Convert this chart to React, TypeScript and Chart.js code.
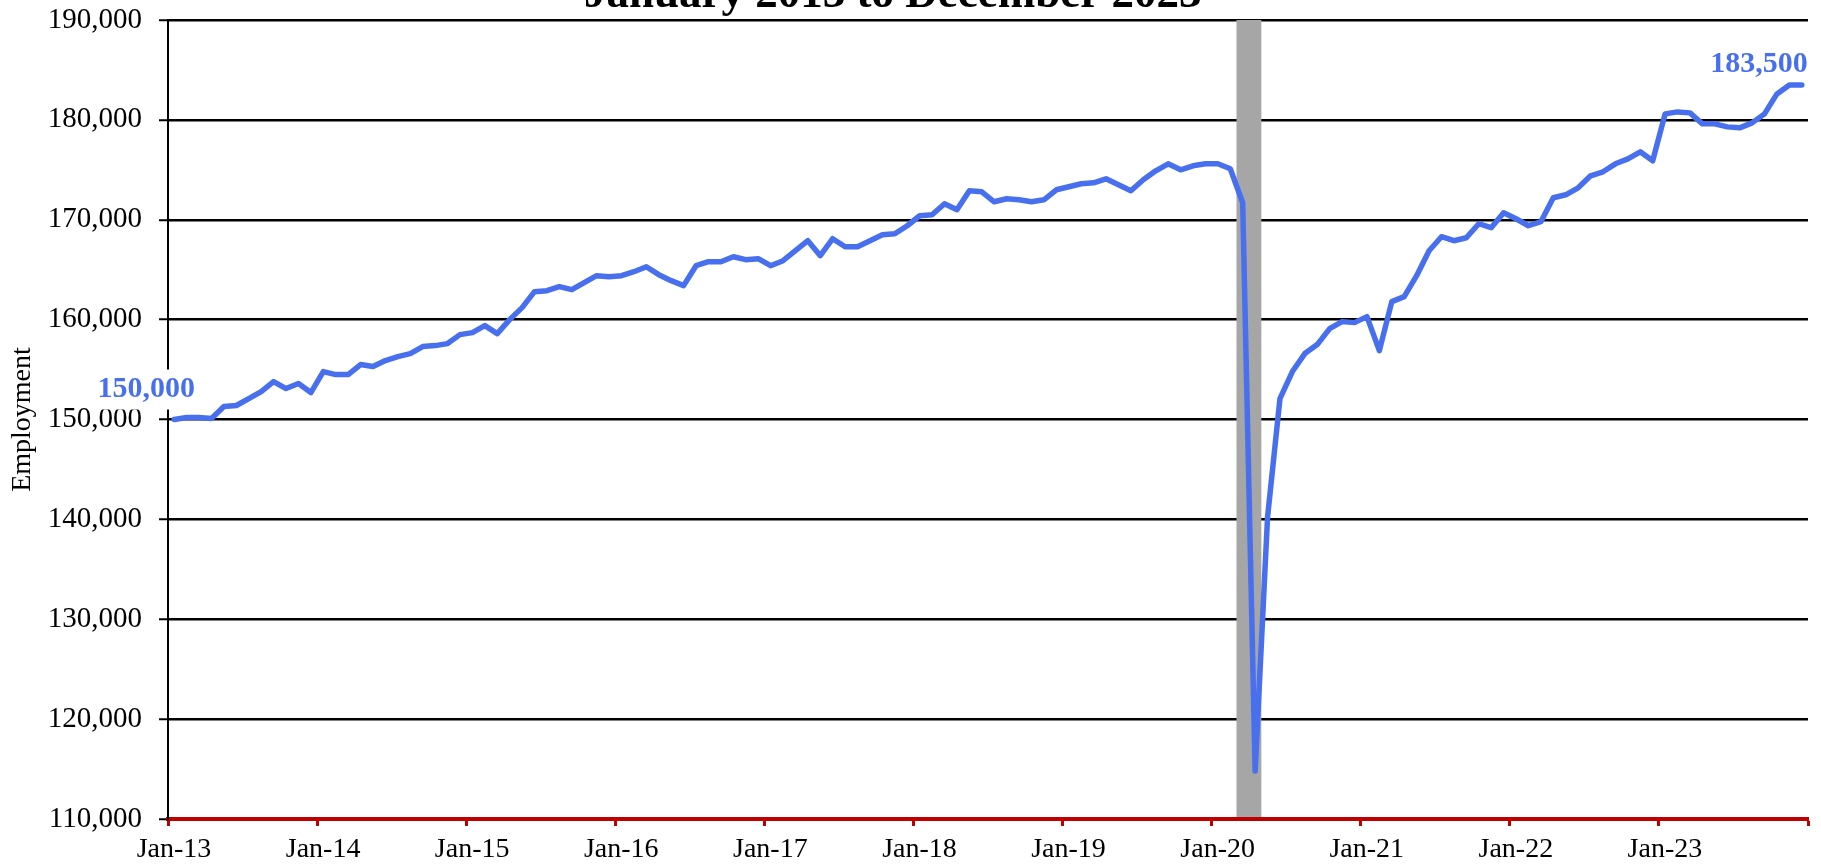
import React, { useEffect, useRef } from "react";
import { Chart, registerables } from "chart.js";

Chart.register(...registerables);

// Monthly employment, January 2013 to December 2023 (132 months)
const employment: number[] = [
  // 2013
  150000, 150200, 150200, 150100, 151300, 151400, 152100, 152800, 153800, 153100, 153600, 152700,
  // 2014
  154800, 154500, 154500, 155500, 155300, 155900, 156300, 156600, 157300, 157400, 157600, 158500,
  // 2015
  158700, 159400, 158600, 160000, 161200, 162800, 162900, 163300, 163000, 163700, 164400, 164300,
  // 2016
  164400, 164800, 165300, 164500, 163900, 163400, 165400, 165800, 165800, 166300, 166000, 166100,
  // 2017
  165400, 165900, 166900, 167900, 166400, 168100, 167300, 167300, 167900, 168500, 168600, 169400,
  // 2018
  170400, 170500, 171600, 171000, 172900, 172800, 171800, 172100, 172000, 171800, 172000, 173000,
  // 2019
  173300, 173600, 173700, 174100, 173500, 172900, 174000, 174900, 175600, 175000, 175400, 175600,
  // 2020
  175600, 175100, 171700, 114800, 140200, 152100, 154800, 156600, 157500, 159100, 159800, 159700,
  // 2021
  160300, 156900, 161800, 162300, 164400, 166900, 168300, 167900, 168200, 169600, 169200, 170700,
  // 2022
  170100, 169400, 169800, 172200, 172500, 173200, 174400, 174800, 175600, 176100, 176800, 175900,
  // 2023
  180600, 180800, 180700, 179600, 179600, 179300, 179200, 179700, 180600, 182600, 183500, 183500,
];

const xTickLabels: string[] = [
  "Jan-13", "Jan-14", "Jan-15", "Jan-16", "Jan-17", "Jan-18",
  "Jan-19", "Jan-20", "Jan-21", "Jan-22", "Jan-23",
];

const yMin = 110000;
const yMax = 190000;
const yStep = 10000;
const monthsPerTick = 12;
const totalMonths = 132;

// Recession shading: March 2020 through April 2020 (month slots 86..88)
const recessionStart = 86;
const recessionEnd = 88;

// Data labels on first and last point
const labelIndices: number[] = [0, 131];
const labelTexts: string[] = ["150,000", "183,500"];

const titleText = "January 2013 to December 2023";

const SERIF = "'Liberation Serif', 'Times New Roman', serif";
const LINE_BLUE = "#4870EE";

const overlayPlugin = {
  id: "overlay",
  beforeDatasetsDraw(chart: any) {
    const { ctx, chartArea, scales } = chart;
    const x0 = scales.x.getPixelForValue(recessionStart);
    const x1 = scales.x.getPixelForValue(recessionEnd);
    ctx.save();
    ctx.fillStyle = "#A6A6A6";
    ctx.fillRect(x0, chartArea.top, x1 - x0, chartArea.bottom - chartArea.top - 2);
    ctx.restore();
  },
  afterDatasetsDraw(chart: any) {
    const { ctx } = chart;
    const meta = chart.getDatasetMeta(0);
    ctx.save();
    ctx.font = `bold 30px ${SERIF}`;
    ctx.textBaseline = "middle";
    labelIndices.forEach((idx, k) => {
      const pt = meta.data[idx];
      if (!pt) return;
      const text = labelTexts[k];
      const w = ctx.measureText(text).width;
      let cx: number;
      let cy: number;
      if (k === 0) {
        cx = pt.x - 28;
        cy = pt.y - 30;
        ctx.fillStyle = "#ffffff";
        ctx.fillRect(cx - w / 2 - 4, cy - 20, w + 8, 40);
      } else {
        cx = pt.x + 6 - w / 2;
        cy = pt.y - 21;
      }
      ctx.fillStyle = LINE_BLUE;
      ctx.textAlign = "center";
      ctx.fillText(text, cx, cy);
    });
    ctx.restore();
  },
  afterDraw(chart: any) {
    const { ctx } = chart;
    ctx.save();
    ctx.font = `bold 45px ${SERIF}`;
    ctx.fillStyle = "#000000";
    ctx.textAlign = "left";
    ctx.textBaseline = "alphabetic";
    ctx.fillText(titleText, 584, 7);
    ctx.restore();
  },
};

export default function App() {
  const canvasRef = useRef<HTMLCanvasElement | null>(null);

  useEffect(() => {
    if (!canvasRef.current) return;
    const points = employment.map((v, i) => ({ x: i + 0.5, y: v }));
    const chart = new Chart(canvasRef.current, {
      type: "line",
      data: {
        datasets: [
          {
            label: "Employment",
            data: points,
            borderColor: LINE_BLUE,
            backgroundColor: LINE_BLUE,
            borderWidth: 5.5,
            pointRadius: 0,
            pointHoverRadius: 0,
            tension: 0,
            borderJoinStyle: "round",
            borderCapStyle: "round",
            fill: false,
          },
        ],
      },
      options: {
        animation: false,
        responsive: false,
        devicePixelRatio: 1,
        layout: { padding: { top: 0, right: 13, left: 0, bottom: 0 } },
        plugins: {
          legend: { display: false },
          tooltip: { enabled: false },
          title: { display: false },
        },
        scales: {
          x: {
            type: "linear",
            min: 0,
            max: totalMonths,
            border: { display: true, color: "#C00000", width: 4 },
            grid: {
              display: true,
              drawOnChartArea: false,
              drawTicks: true,
              tickLength: 7,
              tickColor: "#C00000",
              tickWidth: 3,
              color: "#C00000",
            },
            ticks: {
              stepSize: monthsPerTick,
              autoSkip: false,
              maxRotation: 0,
              minRotation: 0,
              padding: 7,
              labelOffset: 6,
              color: "#000000",
              font: { family: SERIF, size: 28 },
              callback: (value: any) => {
                const i = Math.round(Number(value) / monthsPerTick);
                return i < xTickLabels.length ? xTickLabels[i] : "";
              },
            },
            afterFit: (scale: any) => {
              scale.height = 46;
            },
          },
          y: {
            type: "linear",
            min: yMin,
            max: yMax,
            border: { display: true, color: "#000000", width: 2 },
            grid: {
              display: true,
              drawTicks: true,
              tickLength: 9,
              tickColor: "#000000",
              tickWidth: 2,
              lineWidth: 2.5,
              color: (c: any) => (c.tick && c.tick.value === yMin ? "rgba(0,0,0,0)" : "#000000"),
            },
            ticks: {
              stepSize: yStep,
              padding: 17,
              color: "#000000",
              font: { family: SERIF, size: 29 },
              callback: (value: any) => Number(value).toLocaleString("en-US"),
            },
            title: {
              display: true,
              text: "Employment",
              color: "#000000",
              font: { family: SERIF, size: 28 },
              padding: { top: 6, bottom: 0 },
            },
            afterFit: (scale: any) => {
              scale.width = 168;
              scale.paddingTop = 20;
              scale.paddingBottom = 0;
            },
          },
        },
      },
      plugins: [overlayPlugin],
    } as any);
    return () => chart.destroy();
  }, []);

  return (
    <div style={{ position: "fixed", left: 0, top: 0, width: 1821, height: 865, background: "#ffffff" }}>
      <canvas ref={canvasRef} width={1821} height={865} style={{ display: "block" }} />
    </div>
  );
}
